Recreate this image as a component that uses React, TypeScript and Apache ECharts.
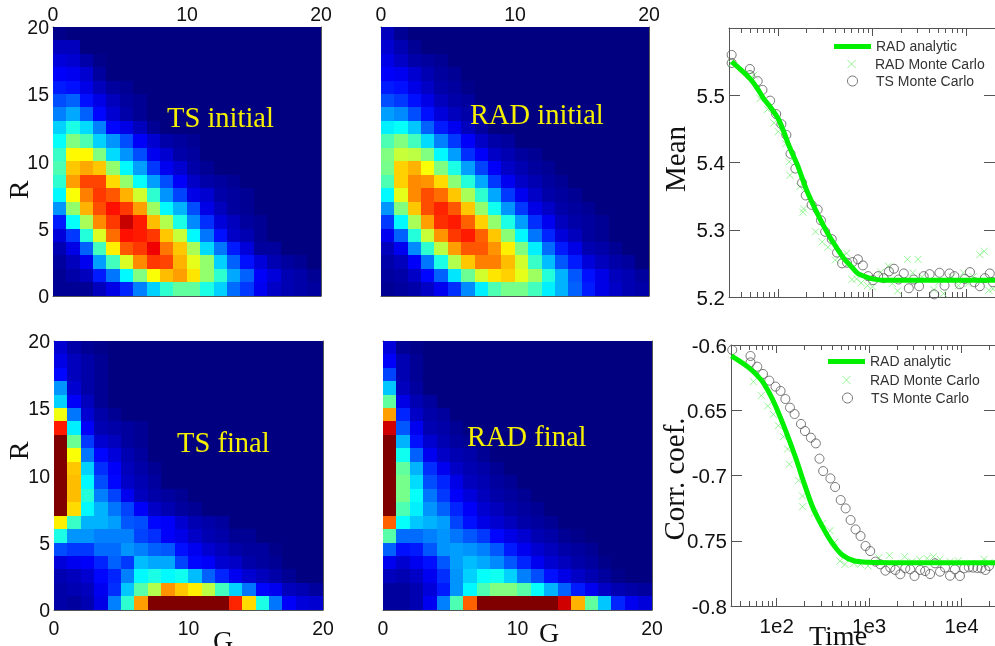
import React, { useEffect, useRef } from "react";
import * as echarts from "echarts";

// Heatmap levels on a 0-100 jet scale. Rows run from R=19 (top) to R=0 (bottom); missing trailing cells are 0.
const tsInitial = [
  [1],
  [6, 6],
  [9, 8, 4, 1],
  [12, 11, 8, 3],
  [15, 14, 10, 6, 3, 2],
  [20, 22, 14, 10, 6, 3, 2],
  [25, 29, 22, 13, 8, 4, 2],
  [33, 40, 34, 25, 13, 10, 6, 2],
  [38, 50, 45, 33, 27, 20, 12, 8, 4, 3, 2],
  [43, 63, 63, 50, 34, 27, 20, 11, 8, 4, 3],
  [45, 68, 71, 68, 52, 37, 28, 18, 11, 8, 4, 2],
  [42, 72, 81, 81, 66, 52, 38, 28, 20, 12, 7, 4, 3, 2],
  [37, 62, 75, 82, 79, 70, 58, 42, 27, 19, 10, 8, 4, 3, 2],
  [27, 52, 70, 80, 86, 82, 72, 53, 37, 30, 20, 10, 6, 3, 2],
  [15, 38, 54, 74, 82, 93, 85, 69, 55, 40, 26, 17, 9, 6, 3, 2],
  [9, 18, 41, 59, 77, 86, 85, 82, 68, 57, 37, 24, 14, 7, 5, 2],
  [5, 10, 22, 44, 64, 79, 82, 89, 76, 68, 54, 34, 24, 15, 9, 3, 3],
  [3, 6, 11, 28, 44, 59, 74, 82, 81, 70, 60, 52, 33, 22, 14, 9, 5, 3, 2],
  [2, 4, 6, 15, 24, 37, 50, 62, 69, 72, 65, 52, 42, 29, 22, 12, 9, 5, 4, 2],
  [2, 2, 2, 6, 10, 16, 25, 33, 42, 47, 47, 40, 33, 23, 18, 11, 7, 5, 4, 3],
];
const radInitial = [
  [6, 2],
  [8, 5, 2],
  [10, 7, 4, 3, 2],
  [12, 11, 8, 5, 3, 2],
  [15, 14, 10, 7, 4, 3, 1],
  [20, 18, 14, 10, 6, 4, 3],
  [28, 26, 20, 14, 9, 6, 4, 2],
  [36, 38, 32, 22, 15, 11, 6, 3],
  [45, 50, 44, 34, 25, 18, 12, 7, 4, 3],
  [50, 57, 56, 50, 37, 28, 17, 12, 7, 5, 3, 2],
  [49, 67, 70, 62, 50, 40, 28, 19, 12, 7, 5, 3, 2],
  [45, 67, 74, 73, 66, 51, 41, 29, 18, 11, 7, 5, 3, 2],
  [37, 60, 74, 80, 77, 68, 54, 42, 29, 18, 11, 7, 4, 3, 2],
  [27, 50, 68, 80, 84, 79, 68, 52, 39, 27, 18, 10, 7, 4, 3, 2],
  [18, 37, 54, 72, 83, 85, 78, 67, 52, 40, 28, 17, 11, 6, 4, 3, 2],
  [11, 22, 41, 57, 73, 82, 85, 78, 68, 51, 37, 24, 16, 9, 6, 3, 2],
  [6, 11, 26, 42, 56, 72, 79, 79, 73, 64, 50, 36, 23, 15, 10, 5, 4, 2],
  [4, 6, 12, 24, 40, 55, 68, 75, 75, 69, 58, 43, 31, 21, 15, 9, 6, 4, 3],
  [3, 4, 7, 13, 22, 35, 48, 58, 65, 67, 60, 53, 41, 30, 21, 14, 10, 6, 5, 3],
  [2, 3, 4, 7, 11, 17, 26, 36, 45, 49, 49, 44, 36, 30, 22, 15, 10, 7, 5, 4],
];
const tsFinal = [
  [8, 4, 2, 1],
  [10, 6, 4, 2],
  [13, 6, 4, 2],
  [27, 8, 4, 2],
  [33, 12, 6, 2],
  [61, 24, 8, 4, 2],
  [85, 36, 12, 5, 4, 3, 2],
  [100, 48, 18, 8, 6, 3, 2],
  [100, 62, 24, 13, 9, 5, 3],
  [100, 68, 33, 17, 12, 6, 4, 2],
  [100, 69, 37, 20, 13, 7, 5, 3],
  [100, 69, 41, 25, 19, 11, 6, 4, 3, 2],
  [100, 66, 37, 30, 24, 19, 12, 7, 5, 3, 2],
  [64, 43, 30, 30, 28, 21, 20, 13, 12, 8, 5, 4, 3],
  [40, 27, 27, 25, 25, 25, 19, 17, 12, 10, 7, 5, 4, 2, 2],
  [20, 18, 18, 23, 23, 27, 25, 22, 21, 14, 11, 8, 6, 4, 3, 3, 1],
  [9, 11, 12, 16, 22, 18, 31, 29, 29, 19, 13, 12, 8, 7, 4, 3, 2],
  [5, 6, 8, 13, 16, 25, 37, 40, 37, 39, 31, 22, 16, 11, 8, 6, 4, 2],
  [4, 5, 6, 11, 17, 32, 46, 55, 73, 68, 64, 56, 44, 33, 24, 13, 11, 6, 5, 3],
  [4, 3, 5, 10, 25, 42, 72, 100, 100, 100, 100, 100, 100, 84, 66, 40, 24, 12, 9, 8],
];
const radFinal = [
  [9, 2, 1],
  [12, 5, 2],
  [19, 5, 2],
  [32, 6, 3],
  [47, 10, 5, 3],
  [72, 16, 7, 4, 3],
  [92, 21, 11, 5, 4, 2],
  [100, 30, 14, 8, 5, 3, 2],
  [100, 39, 22, 11, 7, 5, 4, 2],
  [100, 47, 30, 17, 11, 7, 5, 4, 2],
  [100, 49, 34, 20, 16, 10, 6, 5, 3, 2],
  [100, 49, 38, 24, 18, 12, 9, 6, 4, 3, 2],
  [100, 45, 36, 27, 22, 16, 12, 8, 6, 4, 3, 2],
  [78, 38, 32, 30, 28, 19, 14, 10, 8, 6, 4, 3, 2],
  [46, 23, 23, 25, 27, 24, 21, 18, 13, 10, 8, 5, 4, 2, 1],
  [22, 14, 15, 21, 27, 28, 27, 25, 21, 15, 11, 8, 6, 4, 3, 2],
  [11, 8, 11, 14, 21, 28, 31, 29, 26, 21, 16, 11, 8, 6, 4, 3, 1],
  [6, 5, 7, 11, 17, 27, 33, 38, 39, 33, 25, 20, 14, 10, 7, 5, 3, 1],
  [3, 3, 5, 9, 15, 27, 37, 45, 50, 50, 46, 38, 30, 22, 15, 11, 7, 5, 4, 3],
  [3, 3, 5, 11, 25, 45, 78, 100, 100, 100, 100, 100, 100, 92, 70, 47, 32, 16, 11, 9],
];

const jetColors = ["#000080", "#0000ff", "#0080ff", "#00ffff", "#80ff80", "#ffff00", "#ff8000", "#ff0000", "#800000"];
const cellLabels = Array.from({ length: 20 }, (_, i) => String(i));

// Mean panel
const meanLineTime = [32, 40, 50, 60, 70, 85, 100, 115, 130, 160, 200, 250, 300, 350, 400, 500, 600, 700, 850, 1000, 1300, 2000, 5000, 10000, 20000];
const meanLineValue = [5.55, 5.538, 5.525, 5.51, 5.495, 5.48, 5.465, 5.445, 5.425, 5.396, 5.359, 5.329, 5.307, 5.29, 5.277, 5.257, 5.245, 5.235, 5.23, 5.227, 5.225, 5.225, 5.225, 5.225, 5.225];
const meanRadTime = [32, 55, 64, 77, 90, 100, 120, 133, 131, 169, 186, 183, 249, 293, 336, 404, 476, 532, 605, 679, 760, 885, 1000, 1225, 1472, 1626, 1849, 2355, 3048, 2679, 3357, 4498, 5040, 5675, 6950, 8170, 9230, 10400, 11750, 13800, 15350, 17200, 19000];
const meanRadValue = [5.547, 5.53, 5.495, 5.479, 5.459, 5.446, 5.428, 5.381, 5.401, 5.364, 5.331, 5.326, 5.297, 5.282, 5.274, 5.255, 5.26, 5.265, 5.226, 5.227, 5.221, 5.217, 5.215, 5.237, 5.246, 5.22, 5.209, 5.256, 5.256, 5.236, 5.23, 5.211, 5.222, 5.205, 5.23, 5.217, 5.236, 5.22, 5.23, 5.263, 5.268, 5.21, 5.212];
const meanTsTime = [32, 32, 50, 50, 60.5, 68, 82, 95, 108, 122, 135, 152, 179, 196, 226, 262, 284, 315, 370, 421, 476, 537, 615, 701, 791, 900, 1015, 1148, 1316, 1496, 1690, 1892, 2153, 2433, 2748, 3126, 3499, 4046, 4529, 5152, 5821, 6572, 7413, 8433, 9594, 10840, 12130, 13800, 15600, 17600, 19000];
const meanTsValue = [5.56, 5.548, 5.539, 5.53, 5.521, 5.508, 5.492, 5.472, 5.457, 5.441, 5.413, 5.391, 5.37, 5.351, 5.337, 5.33, 5.314, 5.297, 5.286, 5.266, 5.25, 5.251, 5.252, 5.256, 5.247, 5.231, 5.225, 5.231, 5.228, 5.238, 5.242, 5.226, 5.235, 5.213, 5.226, 5.216, 5.231, 5.234, 5.204, 5.236, 5.217, 5.235, 5.231, 5.219, 5.227, 5.237, 5.222, 5.216, 5.228, 5.235, 5.222];

// Correlation panel
const corrLineTime = [32.3, 51, 68, 82, 98, 126, 161, 198, 244, 312, 400, 513, 684, 990, 1766, 5000, 23000];
const corrLineValue = [-0.6084, -0.6179, -0.6268, -0.636, -0.6473, -0.6664, -0.6868, -0.706, -0.7239, -0.7392, -0.752, -0.7609, -0.7653, -0.7665, -0.7668, -0.7668, -0.7668];
const corrRadTime = [56, 68, 80, 92, 104, 118, 131, 137, 172, 190, 190, 254, 312, 378, 424, 484, 547, 684, 807, 975, 1270, 1656, 1918, 2420, 2900, 3505, 4236, 4955, 5848, 7500, 9204, 12800, 17500, 19800];
const corrRadValue = [-0.6281, -0.6388, -0.6467, -0.6531, -0.6618, -0.6702, -0.6797, -0.6914, -0.7037, -0.7157, -0.7239, -0.729, -0.7367, -0.7423, -0.7512, -0.7655, -0.7681, -0.7673, -0.7681, -0.7693, -0.763, -0.7612, -0.7673, -0.7622, -0.766, -0.7642, -0.7635, -0.7622, -0.7642, -0.766, -0.7653, -0.7673, -0.7642, -0.7668];
const corrTsTime = [33, 52, 52, 61.5, 71, 83, 97, 110, 124, 139, 156, 183, 202, 234, 265, 290, 318, 381, 428, 492, 557, 630, 713, 807, 914, 1026, 1169, 1324, 1500, 1695, 1918, 2172, 2460, 2780, 3097, 3565, 4036, 4560, 5164, 5848, 6620, 7500, 8470, 9594, 10690, 12000, 13350, 14850, 16400, 18100, 19800];
const corrTsValue = [-0.6038, -0.6084, -0.6133, -0.6166, -0.6222, -0.6273, -0.6319, -0.6352, -0.6414, -0.648, -0.6529, -0.6605, -0.6659, -0.671, -0.6754, -0.6871, -0.6966, -0.7022, -0.7088, -0.7188, -0.7252, -0.7341, -0.7413, -0.7464, -0.754, -0.7579, -0.766, -0.7681, -0.7729, -0.7706, -0.7724, -0.7757, -0.7711, -0.7719, -0.777, -0.7724, -0.7732, -0.7755, -0.7673, -0.7737, -0.7706, -0.7768, -0.7719, -0.777, -0.7711, -0.7704, -0.7706, -0.7709, -0.7711, -0.7724, -0.7693];

const majorTimes = [100, 1000, 10000];
const minorTimes = [40, 50, 60, 70, 80, 90, 200, 300, 400, 500, 600, 700, 800, 900, 2000, 3000, 4000, 5000, 6000, 7000, 8000, 9000, 20000];
const corrTickLabels: Record<string, string> = { "-0.6": "-0.6", "-0.65": "0.65", "-0.7": "-0.7", "-0.75": "0.75", "-0.8": "-0.8" };

const LINE_NAME = "RAD analytic";
const RAD_NAME = "RAD Monte Carlo";
const TS_NAME = "TS Monte Carlo";
const GREEN = "#00f000";
const LIGHT_GREEN = "#7cf07c";
const DARK = "#555555";
const CROSS = "path://M0 0L10 10M10 0L0 10";
const SANS = '"Liberation Sans", Arial, sans-serif';
const SERIF = '"Liberation Serif", "Times New Roman", serif';

function zip(xs: number[], ys: number[]) {
  return xs.map((x, i) => [x, ys[i]]);
}

function cells(rows: number[][]) {
  const out: number[][] = [];
  rows.forEach((row, r) => {
    for (let c = 0; c < 20; c++) out.push([c, 19 - r, row[c] ?? 0]);
  });
  return out;
}

function buildOption() {
  const grid: any[] = [];
  const xAxis: any[] = [];
  const yAxis: any[] = [];
  const series: any[] = [];
  const heatLabel = { color: "#111", fontFamily: SANS, fontSize: 19.5 };
  const curveLabel = { color: "#111", fontFamily: SANS, fontSize: 20.5 };
  const lineStyle = { color: DARK, width: 1 };

  const heat = (rows: number[][], box: number[], xPos: string, yLabels: boolean) => {
    const g = grid.length;
    grid.push({ left: box[0], top: box[1], width: box[2], height: box[3], show: true, backgroundColor: "#000080", borderWidth: 0 });
    const xi = xAxis.length;
    const yi = yAxis.length;
    xAxis.push({ type: "category", gridIndex: g, data: cellLabels, show: false });
    yAxis.push({ type: "category", gridIndex: g, data: cellLabels, show: false });
    (["top", "bottom"] as const).forEach((p) => {
      xAxis.push({
        type: "value", gridIndex: g, position: p, min: 0, max: 20, interval: 10,
        axisLine: { show: true, onZero: false, lineStyle },
        axisTick: { show: false }, splitLine: { show: false },
        axisLabel: { show: p === xPos, margin: p === "top" ? 3 : 8, ...heatLabel },
      });
    });
    (["left", "right"] as const).forEach((p) => {
      yAxis.push({
        type: "value", gridIndex: g, position: p, min: 0, max: 20, interval: 5,
        axisLine: { show: true, onZero: false, lineStyle },
        axisTick: { show: false }, splitLine: { show: false },
        axisLabel: { show: p === "left" && yLabels, margin: 4, ...heatLabel },
      });
    });
    series.push({
      type: "heatmap", xAxisIndex: xi, yAxisIndex: yi, data: cells(rows),
      itemStyle: { borderWidth: 0 }, emphasis: { disabled: true }, progressive: 0,
    });
  };

  const curves = (
    box: number[], tMin: number, tMax: number,
    yMin: number, yMax: number, yStep: number,
    line: number[][], rad: number[][], ts: number[][],
    showTimeLabels: boolean, yFormat: (v: number) => string, showTop: boolean,
  ) => {
    const g = grid.length;
    grid.push({ left: box[0], top: box[1], width: box[2], height: box[3] });
    const xi = xAxis.length;
    const yi = yAxis.length;
    (["bottom", "top"] as const).forEach((p) => {
      xAxis.push({
        type: "log", logBase: 10, gridIndex: g, position: p, min: tMin, max: tMax,
        axisLine: { show: true, onZero: false, lineStyle },
        axisTick: { show: true, inside: true, length: 8, lineStyle, customValues: majorTimes },
        minorTick: { show: false }, splitLine: { show: false },
        axisLabel: {
          show: p === "bottom" && showTimeLabels, margin: 9, ...curveLabel,
          customValues: majorTimes,
          formatter: (v: number) => "1e" + Math.round(Math.log10(v)),
        },
      });
      xAxis.push({
        type: "log", logBase: 10, gridIndex: g, position: p, min: tMin, max: tMax,
        axisLine: { show: false },
        axisTick: { show: true, inside: true, length: 5, lineStyle, customValues: minorTimes },
        minorTick: { show: false }, splitLine: { show: false },
        axisLabel: { show: false },
      });
    });
    (["left", "right"] as const).forEach((p) => {
      yAxis.push({
        type: "value", gridIndex: g, position: p, min: yMin, max: yMax, interval: yStep,
        axisLine: { show: true, onZero: false, lineStyle },
        axisTick: { show: true, inside: true, length: 11, lineStyle },
        splitLine: { show: false },
        axisLabel: { show: p === "left", margin: 4, showMaxLabel: showTop, ...curveLabel, formatter: yFormat },
      });
    });
    series.push(
      {
        type: "scatter", name: RAD_NAME, xAxisIndex: xi, yAxisIndex: yi, data: rad,
        symbol: CROSS, symbolSize: 7,
        itemStyle: { color: "transparent", borderColor: LIGHT_GREEN, borderWidth: 1 },
        emphasis: { disabled: true },
      },
      {
        type: "line", name: LINE_NAME, xAxisIndex: xi, yAxisIndex: yi, data: line,
        showSymbol: false, smooth: 0.3, lineStyle: { color: GREEN, width: 5 },
        itemStyle: { color: GREEN }, emphasis: { disabled: true },
      },
      {
        type: "scatter", name: TS_NAME, xAxisIndex: xi, yAxisIndex: yi, data: ts,
        symbol: "circle", symbolSize: 9,
        itemStyle: { color: "transparent", borderColor: DARK, borderWidth: 1 },
        emphasis: { disabled: true },
      },
    );
  };

  heat(tsInitial, [53, 27, 268, 269], "top", true);
  heat(radInitial, [381, 27, 268, 269], "top", false);
  heat(tsFinal, [54, 341, 269, 269], "bottom", true);
  heat(radFinal, [383, 341, 269, 269], "bottom", false);

  curves(
    [729, 28, 268, 269], 30, 20000, 5.2, 5.6, 0.1,
    zip(meanLineTime, meanLineValue), zip(meanRadTime, meanRadValue), zip(meanTsTime, meanTsValue),
    false, (v: number) => v.toFixed(1), false,
  );
  curves(
    [731, 345, 265.5, 261], 32, 23000, -0.8, -0.6, 0.05,
    zip(corrLineTime, corrLineValue), zip(corrRadTime, corrRadValue), zip(corrTsTime, corrTsValue),
    true, (v: number) => corrTickLabels[String(+v.toFixed(2))] ?? "", true,
  );

  const legendAt = (name: string, left: number, centerY: number) => {
    const isLine = name === LINE_NAME;
    const isRad = name === RAD_NAME;
    return {
      show: true, left, top: centerY - 8, padding: 0, selectedMode: false,
      itemWidth: 37, itemHeight: isLine ? 5 : isRad ? 8 : 10, itemGap: 0, symbolKeepAspect: true,
      textStyle: { color: "#333", fontFamily: SANS, fontSize: 14, lineHeight: 16 },
      data: [{
        name,
        icon: isLine ? "rect" : isRad ? CROSS : "circle",
        itemStyle: isLine
          ? { color: GREEN, borderWidth: 0 }
          : { color: "transparent", borderColor: isRad ? LIGHT_GREEN : DARK, borderWidth: 1 },
      }],
    };
  };

  const text = (t: string, x: number, y: number, fill: string, size: number, rotated = false, align = "left") => ({
    type: "text", x, y, rotation: rotated ? Math.PI / 2 : 0, silent: true, z: 50,
    style: { text: t, fill, font: `${size}px ${SERIF}`, align, verticalAlign: "middle" },
  });

  return {
    animation: false,
    backgroundColor: "#ffffff",
    grid, xAxis, yAxis, series,
    visualMap: {
      show: false, type: "continuous", min: 0, max: 100, dimension: 2,
      seriesIndex: [0, 1, 2, 3], inRange: { color: jetColors },
    },
    legend: [
      legendAt(LINE_NAME, 834, 46), legendAt(RAD_NAME, 847, 64), legendAt(TS_NAME, 847, 81),
      legendAt(LINE_NAME, 828, 361), legendAt(RAD_NAME, 842, 380), legendAt(TS_NAME, 842, 398),
    ],
    graphic: [
      text("TS initial", 167, 117, "#f6f000", 28.5),
      text("RAD initial", 470, 114, "#f6f000", 28.5),
      text("TS final", 177, 442, "#f6f000", 28.5),
      text("RAD final", 467, 436, "#f6f000", 28.5),
      text("R", 18, 190, "#111", 28, true, "center"),
      text("R", 18, 451, "#111", 28, true, "center"),
      text("G", 223, 640, "#111", 28, false, "center"),
      text("G", 549, 632, "#111", 28, false, "center"),
      text("Mean", 675, 159, "#111", 29, true, "center"),
      text("Corr. coef.", 674, 479, "#111", 29, true, "center"),
      text("Time", 838, 635, "#111", 28, false, "center"),
    ],
  };
}

const crispCells = `.jet-chart svg path:not([stroke]), .jet-chart svg path[stroke="none"] { shape-rendering: crispEdges; }`;

export default function App() {
  const ref = useRef<HTMLDivElement>(null);
  useEffect(() => {
    const chart = echarts.init(ref.current!, undefined, { renderer: "svg" });
    chart.setOption(buildOption() as any);
    return () => chart.dispose();
  }, []);
  return (
    <>
      <style>{crispCells}</style>
      <div
        ref={ref}
        className="jet-chart"
        style={{ position: "absolute", left: 0, top: 0, width: 995, height: 646, overflow: "hidden", background: "#fff", filter: "blur(0.6px)" }}
      />
    </>
  );
}
